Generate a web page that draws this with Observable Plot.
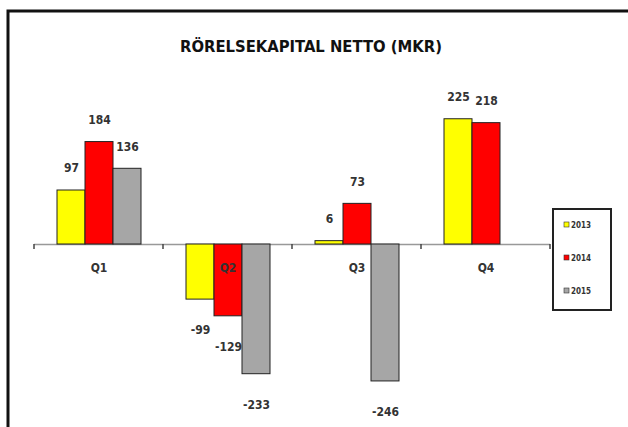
<!DOCTYPE html>
<html>
<head>
<meta charset="utf-8">
<script src="https://cdn.jsdelivr.net/npm/d3@7"></script>
<script src="https://cdn.jsdelivr.net/npm/@observablehq/plot@0.6"></script>
<style>
  html, body { margin: 0; padding: 0; background: #fff; }
  #chart svg { display: block; background: #fff; }
</style>
</head>
<body>
<div id="chart"></div>
<script>
const title = "RÖRELSEKAPITAL NETTO (MKR)";
const quarters = ["Q1", "Q2", "Q3", "Q4"];
const years = ["2013", "2014", "2015"];
const v2013 = [97, -99, 6, 225];
const v2014 = [184, -129, 73, 218];
const v2015 = [136, -233, -246, null];
const colors = ["#FFFF00", "#FF0000", "#A6A6A6"];

const series = [v2013, v2014, v2015];
const rows = [];
quarters.forEach((q, i) => {
  years.forEach((y, j) => {
    const v = series[j][i];
    if (v !== null) rows.push({q, year: y, value: v});
  });
});

const font = "'Liberation Sans Narrow', 'DejaVu Sans Condensed', 'Liberation Sans', sans-serif";

const plot = Plot.plot({
  width: 628,
  height: 427,
  marginLeft: 34,
  marginRight: 78,
  marginTop: 77,
  marginBottom: 16,
  style: {fontFamily: font, background: "#fff"},
  fx: {domain: quarters, padding: 0, axis: null},
  x: {domain: years, paddingInner: 0, paddingOuter: 0.75, axis: null},
  y: {domain: [-300, 300], axis: null},
  color: {domain: years, range: colors},
  marks: [
    Plot.ruleY([0], {stroke: "#999", strokeWidth: 1.5}),
    Plot.barY(rows, {fx: "q", x: "year", y: "value", fill: "year", stroke: "#222", strokeWidth: 1}),
    Plot.text(rows.filter(d => d.value >= 0), {fx: "q", x: "year", y: "value", text: d => String(d.value), dy: -22, fontSize: 12, fontWeight: "bold", fill: "#333"}),
    Plot.text(rows.filter(d => d.value < 0), {fx: "q", x: "year", y: "value", text: d => String(d.value), dy: 31, fontSize: 12, fontWeight: "bold", fill: "#333"}),
    Plot.text(quarters, {fx: d => d, y: d => 0, text: d => d, dy: 24, fontSize: 12, fontWeight: "bold", fill: "#333"})
  ]
});

document.getElementById("chart").appendChild(plot);

const svg = d3.select(plot);
const fx = plot.scale("fx");
const ys = plot.scale("y");
const y0 = ys.apply(0);

// category boundary ticks
const bounds = quarters.map(q => fx.apply(q));
bounds.push(fx.apply(quarters[quarters.length - 1]) + fx.bandwidth);
svg.append("g").selectAll("line").data(bounds).join("line")
  .attr("x1", d => d).attr("x2", d => d)
  .attr("y1", y0).attr("y2", y0 + 5)
  .attr("stroke", "#444").attr("stroke-width", 1.5);

// outer frame (top and left edges visible)
svg.append("path")
  .attr("d", "M8,427V11H628")
  .attr("fill", "none").attr("stroke", "#111").attr("stroke-width", 3);

// title
svg.append("text")
  .attr("x", 311).attr("y", 52)
  .attr("text-anchor", "middle")
  .attr("font-family", font)
  .attr("font-weight", "bold")
  .attr("font-size", 15)
  .attr("textLength", 262)
  .attr("lengthAdjust", "spacingAndGlyphs")
  .attr("fill", "#111")
  .text(title);

// legend
const color = plot.scale("color");
const lg = svg.append("g");
lg.append("rect")
  .attr("x", 553).attr("y", 209).attr("width", 58).attr("height", 101)
  .attr("fill", "#fff").attr("stroke", "#222").attr("stroke-width", 2);
years.forEach((yr, i) => {
  const cy = 225 + i * 33;
  lg.append("rect")
    .attr("x", 564).attr("y", cy - 3).attr("width", 5).attr("height", 5)
    .attr("fill", color.apply(yr)).attr("stroke", "#333").attr("stroke-width", 0.6);
  lg.append("text")
    .attr("x", 571).attr("y", cy + 3)
    .attr("text-anchor", "start")
    .attr("font-family", font).attr("font-size", 8).attr("font-weight", "bold").attr("fill", "#333")
    .text(yr);
});
</script>
</body>
</html>
